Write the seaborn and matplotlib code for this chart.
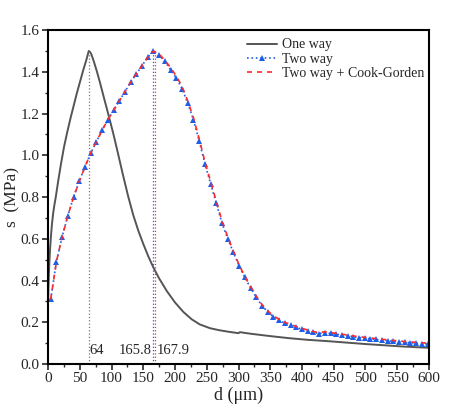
import numpy as np
import pandas as pd
import matplotlib
matplotlib.use("Agg")
import matplotlib.pyplot as plt
from matplotlib.ticker import MultipleLocator
import seaborn as sns

# one way curve
d_one = [0, 0.5, 1, 2, 3, 4, 5, 6, 8, 10, 12, 16, 20, 25, 30, 35, 40, 45, 50,
         55, 60, 64, 66, 68, 72, 77, 82, 88, 95, 103, 110, 118, 126, 134, 142,
         150, 158, 166, 175, 187, 200, 213, 226, 239, 255, 270, 284, 300, 302,
         320, 350, 380, 410, 440, 470, 500, 530, 560, 600]
s_one = [0.30, 0.37, 0.42, 0.49, 0.55, 0.595, 0.635, 0.67, 0.725, 0.765, 0.80,
         0.88, 0.955, 1.04, 1.11, 1.175, 1.235, 1.295, 1.35, 1.405, 1.455, 1.50,
         1.495, 1.485, 1.45, 1.40, 1.345, 1.275, 1.195, 1.10, 1.01, 0.905, 0.805,
         0.715, 0.64, 0.575, 0.515, 0.462, 0.41, 0.35, 0.295, 0.25, 0.215, 0.19,
         0.172, 0.162, 0.155, 0.148, 0.153, 0.145, 0.134, 0.124, 0.116, 0.11,
         0.103, 0.096, 0.09, 0.084, 0.078]

# two way curves
d_two = [4, 13, 22, 31, 40, 49, 58, 67, 76, 85, 94, 103, 112, 121, 130, 139,
         148, 157, 166, 175, 184, 193, 202, 211, 220, 229, 238, 247, 256, 265,
         274, 283, 292, 301, 310, 319, 328, 337, 346, 355, 364, 373, 382, 391,
         400, 409, 418, 427, 436, 445, 454, 463, 472, 481, 490, 499, 508, 517,
         526, 535, 544, 553, 562, 571, 580, 589, 598]
s_two = [0.31, 0.49, 0.61, 0.71, 0.80, 0.875, 0.945, 1.01, 1.065, 1.12, 1.17,
         1.215, 1.26, 1.305, 1.35, 1.39, 1.43, 1.47, 1.50, 1.48, 1.45, 1.41,
         1.37, 1.32, 1.25, 1.17, 1.07, 0.96, 0.865, 0.77, 0.675, 0.60, 0.535,
         0.47, 0.415, 0.365, 0.32, 0.28, 0.25, 0.227, 0.21, 0.196, 0.186, 0.176,
         0.167, 0.159, 0.152, 0.146, 0.151, 0.147, 0.143, 0.139, 0.135, 0.131,
         0.127, 0.124, 0.121, 0.118, 0.115, 0.112, 0.109, 0.107, 0.104, 0.102,
         0.100, 0.098, 0.096]
s_cook = [0.31, 0.49, 0.61, 0.71, 0.80, 0.875, 0.945, 1.01, 1.065, 1.12, 1.17,
          1.215, 1.26, 1.305, 1.35, 1.39, 1.43, 1.47, 1.50, 1.485, 1.455, 1.42,
          1.38, 1.33, 1.26, 1.18, 1.08, 0.97, 0.875, 0.78, 0.685, 0.61, 0.54,
          0.475, 0.42, 0.37, 0.325, 0.285, 0.255, 0.231, 0.214, 0.2, 0.19, 0.18,
          0.171, 0.163, 0.156, 0.15, 0.155, 0.151, 0.147, 0.143, 0.139, 0.135,
          0.131, 0.128, 0.125, 0.122, 0.119, 0.116, 0.113, 0.111, 0.108, 0.106,
          0.104, 0.102, 0.100]

peak_d = [64, 165.8, 167.9]
peak_labels = ["64", "165.8", "167.9"]

sns.set_style("ticks")
plt.rcParams['font.family'] = ['Liberation Serif', 'DejaVu Serif']

c_grey = '#555555'
c_blue = '#1f5fe8'
c_red = '#ff2a2a'

fig = plt.figure(figsize=(4.5, 4.18), dpi=100)
ax = fig.add_axes([0.107, 0.129, 0.846, 0.799])

sns.lineplot(x=d_one, y=s_one, ax=ax, color=c_grey, lw=1.4, label='One way', sort=False)
sns.lineplot(x=d_two, y=s_two, ax=ax, color=c_blue, lw=1.2, linestyle=':',
             marker='^', markersize=4.2, markeredgewidth=0, label='Two way', sort=False)
sns.lineplot(x=d_two, y=s_cook, ax=ax, color=c_red, lw=1.2, linestyle=(0, (3, 3)),
             label='Two way + Cook-Gorden', sort=False, zorder=3)

# peak markers
pk = [max(s_one), max(s_two), max(s_cook)]
for x, top, c in zip(peak_d, pk, ['#777777', c_blue, c_red]):
    ax.plot([x, x], [0, top], color=c, lw=0.9, linestyle=':')
ax.text(peak_d[0] + 1.5, 0.035, peak_labels[0], fontsize=10.5, ha='left', va='bottom')
ax.text(peak_d[1] - 3, 0.035, peak_labels[1], fontsize=10.5, ha='right', va='bottom')
ax.text(peak_d[2] + 3, 0.035, peak_labels[2], fontsize=10.5, ha='left', va='bottom')

ax.set_xlim(0, 600)
ax.set_ylim(0, 1.6)
ax.xaxis.set_major_locator(MultipleLocator(50))
ax.xaxis.set_minor_locator(MultipleLocator(25))
ax.yaxis.set_major_locator(MultipleLocator(0.2))
ax.yaxis.set_minor_locator(MultipleLocator(0.1))
ax.yaxis.set_major_formatter(matplotlib.ticker.FormatStrFormatter('%.1f'))
ax.tick_params(which='major', direction='out', length=4, width=1.2, labelsize=11, pad=2)
ax.tick_params(which='minor', direction='out', length=2.5, width=1.0)
for sp in ax.spines.values():
    sp.set_linewidth(1.5)
    sp.set_color('black')

ax.set_xlabel('d (μm)', fontsize=13, labelpad=1)
ax.set_ylabel('s  (MPa)', fontsize=12.5, labelpad=0)

ax.legend(loc='upper left', bbox_to_anchor=(0.5, 1.0), frameon=False, fontsize=10,
          handlelength=2.2, handletextpad=0.3, labelspacing=0.1, borderaxespad=0.2)

fig.savefig('out.png', dpi=100)
